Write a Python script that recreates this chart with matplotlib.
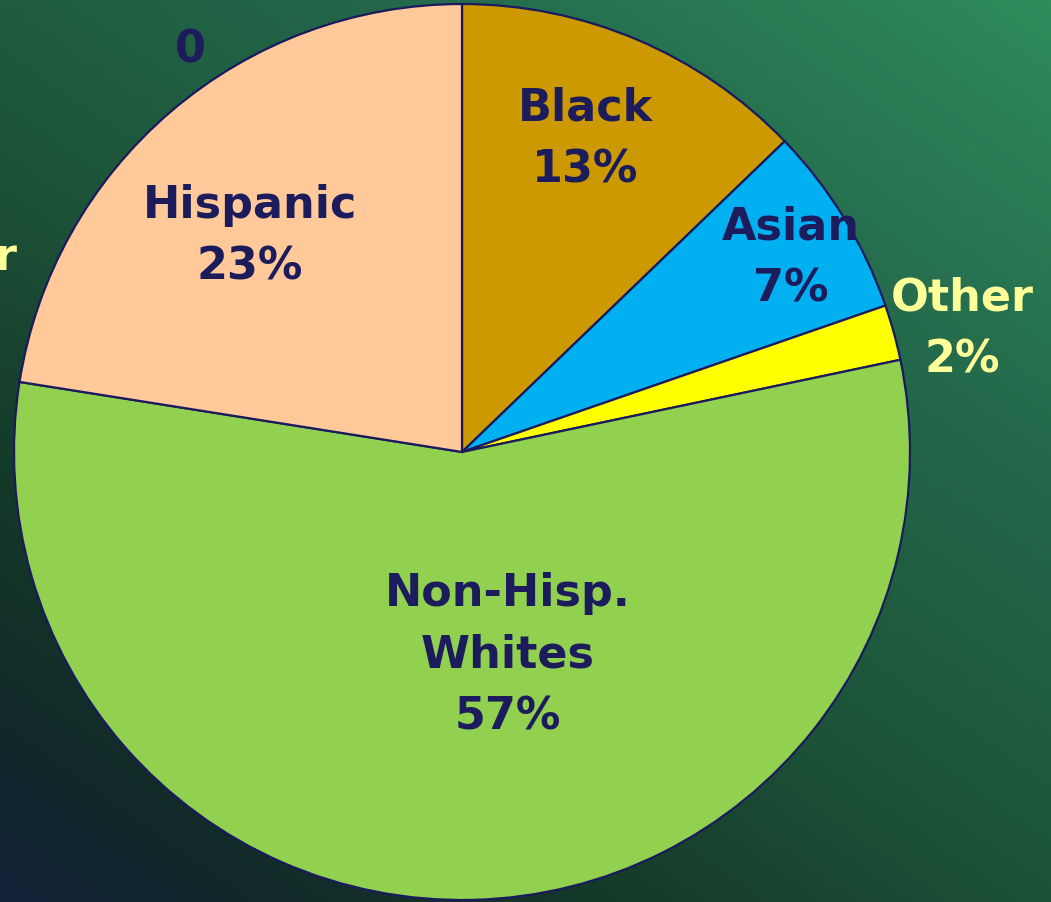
import numpy as np
import matplotlib
matplotlib.use("Agg")
import matplotlib.pyplot as plt
from matplotlib.colors import LinearSegmentedColormap

# Data (order: clockwise from 12 o'clock)
categories = ["Black", "Asian", "Other", "Non-Hisp.\nWhites", "Hispanic"]
shares = [12.8, 6.9, 2.0, 55.8, 22.5]          # slice sizes as drawn
label_pcts = ["13%", "7%", "2%", "57%", "23%"]  # printed labels
colors = ["#cc9900", "#00b0f0", "#ffff00", "#92d050", "#ffc999"]

W, H = 1051, 903
fig = plt.figure(figsize=(W / 100, H / 100), dpi=100)

# background gradient
bg = fig.add_axes([0, 0, 1, 1])
bg.set_axis_off()
yy, xx = np.mgrid[0:1:300j, 0:1:300j]   # yy=0 at top (origin upper)
t = (xx * 0.45 + (1 - yy) * 0.55)
cmap = LinearSegmentedColormap.from_list(
    "bg", [(0, "#13233a"), (0.1, "#11282a"), (0.25, "#143828"), (0.45, "#1d5238"),
           (0.55, "#1f5c3e"), (0.7, "#23664a"), (1.0, "#2e8b5c")])
bg.imshow(t, cmap=cmap, extent=[0, 1, 0, 1], aspect="auto", origin="upper")

ax = fig.add_axes([0, 0, 1, 1])
ax.set_axis_off()
ax.patch.set_alpha(0)

def py(y):
    return H - y

cx, cy, R = 462, 453, 448
wedges, _ = ax.pie(shares, colors=colors, startangle=90, counterclock=False,
                   center=(cx, py(cy)), radius=R,
                   wedgeprops=dict(edgecolor="#1a1a5e", linewidth=1.6))
ax.set_xlim(0, W)
ax.set_ylim(0, H)
ax.set_aspect("equal")

navy = "#1c1c5c"
yellow = "#ffff99"
font = dict(family="DejaVu Sans", fontweight="bold", fontsize=32, ha="center", va="center")

label_pos = [(585, 139), (791, 258), (962, 329), (508, 655), (250, 236)]
label_cols = [navy, navy, yellow, navy, navy]
for name, pct, (x, y), col in zip(categories, label_pcts, label_pos, label_cols):
    ax.text(x, py(y), name + "\n" + pct, color=col, linespacing=1.55, **font)

ax.text(190, py(50), "0", color=navy, **font)
ax.text(5, py(258), "r", color=yellow, **font)

fig.savefig("out.png", dpi=100)
